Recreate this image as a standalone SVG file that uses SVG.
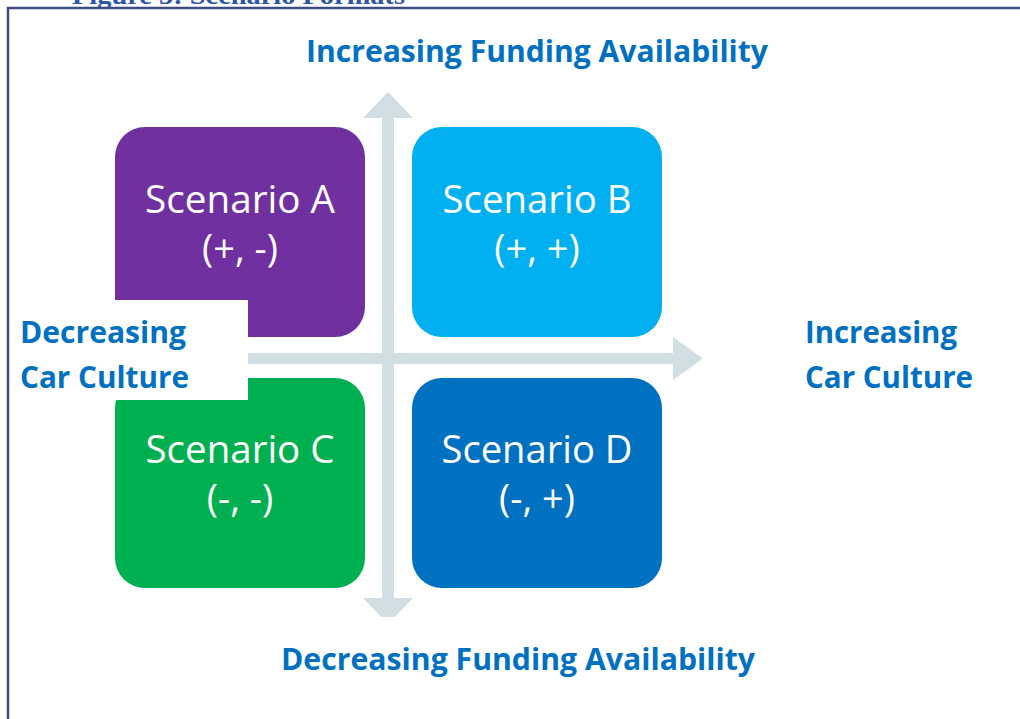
<svg xmlns="http://www.w3.org/2000/svg" width="1020" height="719" viewBox="0 0 1020 719">
<style>
.lbl{font-family:"Open Sans","Liberation Sans",sans-serif;font-weight:bold;font-size:30px;fill:#0070C0}
.sc{font-family:"Open Sans","Liberation Sans",sans-serif;font-size:38px;fill:#FFFFFF;text-anchor:middle}
.ax{fill:#D1DEE3}
</style>
<rect x="0" y="0" width="1020" height="719" fill="#FFFFFF"/>
<text x="72" y="4" font-family="Liberation Serif,serif" font-weight="bold" font-size="25" fill="#2E54A8" textLength="333" lengthAdjust="spacingAndGlyphs">Figure 5: Scenario Formats</text>
<rect x="8" y="8" width="1040" height="740" fill="none" stroke="#3C4A80" stroke-width="2.5"/>
<g id="connectors">
<polygon class="ax" points="388,92 413,118 394,118 394,598 413,598 395,617 381,617 363,598 382,598 382,118 363,118"/>
<polygon class="ax" points="220,353 673,353 673,337 703,358.5 673,380 673,364 220,364"/>
</g>
<g id="scenarioA">
<rect x="115" y="127" width="250" height="210" rx="30" fill="#7030A0"/>
<text class="sc" x="240" y="213" textLength="190" lengthAdjust="spacingAndGlyphs">Scenario A</text>
<text class="sc" x="240" y="262">(+, -)</text>
</g>
<g id="scenarioB">
<rect x="412" y="127" width="250" height="210" rx="30" fill="#00B0F0"/>
<text class="sc" x="537" y="213" textLength="189" lengthAdjust="spacingAndGlyphs">Scenario B</text>
<text class="sc" x="537" y="262">(+, +)</text>
</g>
<g id="scenarioC">
<rect x="115" y="378" width="250" height="210" rx="30" fill="#00B050"/>
<text class="sc" x="240" y="463" textLength="189" lengthAdjust="spacingAndGlyphs">Scenario C</text>
<text class="sc" x="240" y="512">(-, -)</text>
</g>
<g id="scenarioD">
<rect x="412" y="378" width="250" height="210" rx="30" fill="#0070C0"/>
<text class="sc" x="537" y="463" textLength="191" lengthAdjust="spacingAndGlyphs">Scenario D</text>
<text class="sc" x="537" y="512">(-, +)</text>
</g>
<g id="labelTop">
<text class="lbl" x="306" y="62" textLength="462" lengthAdjust="spacingAndGlyphs">Increasing Funding Availability</text>
</g>
<g id="labelBottom">
<text class="lbl" x="281" y="670" textLength="474" lengthAdjust="spacingAndGlyphs">Decreasing Funding Availability</text>
</g>
<g id="labelLeft">
<rect x="10" y="300" width="238" height="100" fill="#FFFFFF"/>
<text class="lbl" x="20" y="343" textLength="166" lengthAdjust="spacingAndGlyphs">Decreasing</text>
<text class="lbl" x="20" y="388" textLength="169" lengthAdjust="spacingAndGlyphs">Car Culture</text>
</g>
<g id="labelRight">
<text class="lbl" x="805" y="343" textLength="152" lengthAdjust="spacingAndGlyphs">Increasing</text>
<text class="lbl" x="805" y="388" textLength="168" lengthAdjust="spacingAndGlyphs">Car Culture</text>
</g>
</svg>
